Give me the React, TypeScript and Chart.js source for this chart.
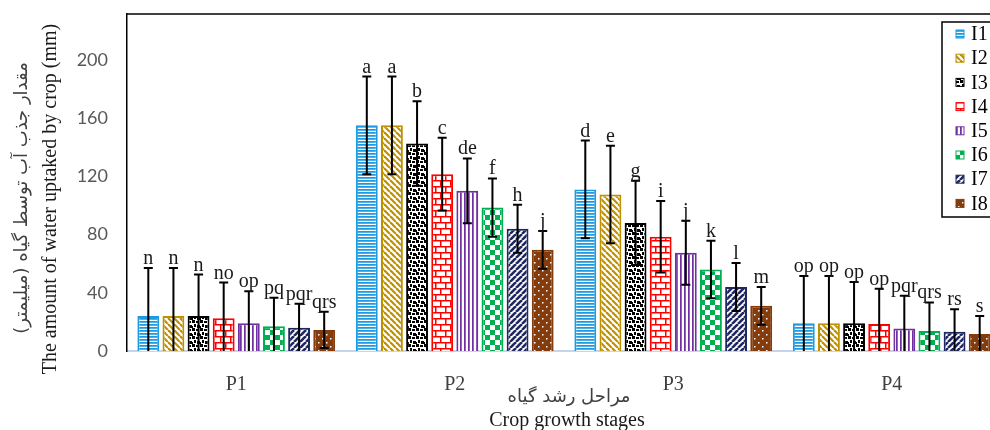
import React, { useEffect, useRef } from "react";
import { Chart, registerables } from "chart.js";

Chart.register(...registerables);

const categories = ["P1", "P2", "P3", "P4"];
const seriesNames = ["I1", "I2", "I3", "I4", "I5", "I6", "I7", "I8"];

const I1 = [24, 155, 111, 19];
const I2 = [24, 155, 107.5, 19];
const I3 = [24, 142.5, 88, 19];
const I4 = [22.5, 121.5, 78.5, 18.5];
const I5 = [19, 110, 67.5, 15.5];
const I6 = [17, 98.5, 56, 13.7];
const I7 = [16, 84, 44, 13.3];
const I8 = [14.5, 69.5, 31, 11.7];

const E1 = [33, 33.5, 33.6, 32.5];
const E2 = [33, 33.5, 33.5, 32.5];
const E3 = [28.5, 29, 29, 28.4];
const E4 = [24.5, 25, 24.5, 24.3];
const E5 = [22, 22.3, 22, 22.5];
const E6 = [19.5, 20, 19.7, 19.7];
const E7 = [16.5, 16.5, 16.5, 15.3];
const E8 = [12.5, 13, 13, 12.3];

const L1 = ["n", "a", "d", "op"];
const L2 = ["n", "a", "e", "op"];
const L3 = ["n", "b", "g", "op"];
const L4 = ["no", "c", "i", "op"];
const L5 = ["op", "de", "j", "pqr"];
const L6 = ["pq", "f", "k", "qrs"];
const L7 = ["pqr", "h", "l", "rs"];
const L8 = ["qrs", "j", "m", "s"];

const yTicks = [0, 40, 80, 120, 160, 200];

const yTitleEn = "The amount of water uptaked by crop (mm)";
const yTitleFa = "مقدار جذب آب توسط گیاه (میلیمتر)";
const xTitleEn = "Crop growth stages";
const xTitleFa = "مراحل رشد گیاه";

const values = [I1, I2, I3, I4, I5, I6, I7, I8];
const errors = [E1, E2, E3, E4, E5, E6, E7, E8];
const letters = [L1, L2, L3, L4, L5, L6, L7, L8];
const colors = ["#1E9BE0", "#BF9000", "#000000", "#FF0000", "#7030A0", "#00B050", "#1F2860", "#843C0C"];

const SERIF = "'Liberation Serif', 'Times New Roman', serif";

function tile(w: number, h: number, draw: (c: CanvasRenderingContext2D) => void) {
  const cv = document.createElement("canvas");
  cv.width = w;
  cv.height = h;
  const c = cv.getContext("2d")!;
  c.fillStyle = "#ffffff";
  c.fillRect(0, 0, w, h);
  draw(c);
  return c.createPattern(cv, "repeat")!;
}

function makePatterns(): CanvasPattern[] {
  const p1 = tile(4, 3, (c) => {
    c.fillStyle = "#1E9BE0";
    c.fillRect(0, 0, 4, 1);
    c.fillStyle = "#4DB0E8";
    c.fillRect(0, 1, 4, 1);
  });
  const p2 = tile(6, 6, (c) => {
    c.strokeStyle = "#BF9000";
    c.lineWidth = 2.2;
    for (let k = -1; k <= 1; k++) {
      c.beginPath();
      c.moveTo(k * 6, 0);
      c.lineTo(k * 6 + 6, 6);
      c.stroke();
    }
  });
  const p3 = tile(8, 8, (c) => {
    c.fillStyle = "#000000";
    c.fillRect(0, 0, 3, 3);
    c.fillRect(4, 1, 3, 2);
    c.fillRect(2, 4, 2, 3);
    c.fillRect(5, 5, 3, 3);
    c.fillRect(0, 6, 1, 2);
  });
  const p4 = tile(10, 12, (c) => {
    c.strokeStyle = "#FF0000";
    c.lineWidth = 1.5;
    c.beginPath();
    c.moveTo(0, 0.75);
    c.lineTo(10, 0.75);
    c.moveTo(0, 6.75);
    c.lineTo(10, 6.75);
    c.moveTo(0.75, 0);
    c.lineTo(0.75, 6);
    c.moveTo(5.75, 6);
    c.lineTo(5.75, 12);
    c.stroke();
  });
  const p5 = tile(4, 1, (c) => {
    c.fillStyle = "#7030A0";
    c.fillRect(0, 0, 1, 1);
    c.fillStyle = "#9566C0";
    c.fillRect(1, 0, 1, 1);
  });
  const p6 = tile(10, 10, (c) => {
    c.fillStyle = "#00B050";
    c.fillRect(0, 0, 5, 5);
    c.fillRect(5, 5, 5, 5);
  });
  const p7 = tile(6, 6, (c) => {
    c.strokeStyle = "#1F2860";
    c.lineWidth = 2.6;
    for (let k = -1; k <= 1; k++) {
      c.beginPath();
      c.moveTo(k * 6, 6);
      c.lineTo(k * 6 + 6, 0);
      c.stroke();
    }
  });
  const p8 = tile(8, 8, (c) => {
    c.fillStyle = "#843C0C";
    c.fillRect(0, 0, 8, 8);
    c.fillStyle = "#ffffff";
    c.fillRect(2, 2, 1.5, 1.5);
    c.fillRect(6, 6, 1.5, 1.5);
  });
  return [p1, p2, p3, p4, p5, p6, p7, p8];
}

export default function App() {
  const ref = useRef<HTMLCanvasElement | null>(null);

  useEffect(() => {
    if (!ref.current) return;
    const patterns = makePatterns();

    const errorPlugin = {
      id: "errorBars",
      afterDatasetsDraw(chart: any) {
        const ctx = chart.ctx;
        const y = chart.scales.y;
        ctx.save();
        ctx.strokeStyle = "#000000";
        ctx.lineWidth = 2;
        chart.data.datasets.forEach((ds: any, i: number) => {
          const meta = chart.getDatasetMeta(i);
          meta.data.forEach((bar: any, j: number) => {
            const v = values[i][j];
            const e = errors[i][j];
            const x = bar.x;
            const yt = y.getPixelForValue(v + e);
            const low = v - e;
            const yb = y.getPixelForValue(Math.max(low, 0));
            ctx.beginPath();
            ctx.moveTo(x, yt);
            ctx.lineTo(x, yb);
            ctx.moveTo(x - 4.5, yt);
            ctx.lineTo(x + 4.5, yt);
            if (low > 0) {
              ctx.moveTo(x - 4.5, yb);
              ctx.lineTo(x + 4.5, yb);
            }
            ctx.stroke();
            ctx.fillStyle = "#1a1a1a";
            ctx.font = `20px ${SERIF}`;
            ctx.textAlign = "center";
            ctx.textBaseline = "alphabetic";
            ctx.fillText(letters[i][j], x, yt - 4);
          });
        });
        ctx.restore();
      },
      afterDraw(chart: any) {
        const ctx = chart.ctx;
        const a = chart.chartArea;
        ctx.save();
        ctx.strokeStyle = "#000000";
        ctx.lineWidth = 1.5;
        ctx.beginPath();
        ctx.moveTo(a.left, a.top);
        ctx.lineTo(a.right, a.top);
        ctx.stroke();

        const lx = 942, ly = 22, lh = 195;
        ctx.fillStyle = "#ffffff";
        ctx.fillRect(lx, ly, 80, lh);
        ctx.lineWidth = 1.5;
        ctx.strokeStyle = "#000000";
        ctx.strokeRect(lx, ly, 80, lh);
        seriesNames.forEach((name, i) => {
          const cy = 34 + i * 24.2;
          ctx.fillStyle = patterns[i];
          ctx.fillRect(956, cy - 4, 8, 8);
          ctx.strokeStyle = colors[i];
          ctx.lineWidth = 1;
          ctx.strokeRect(956, cy - 4, 8, 8);
          ctx.fillStyle = "#000000";
          ctx.font = `20px ${SERIF}`;
          ctx.textAlign = "left";
          ctx.textBaseline = "middle";
          ctx.fillText(name, 971, cy + 1);
        });

        ctx.fillStyle = "#404040";
        ctx.textAlign = "center";
        ctx.textBaseline = "middle";
        ctx.save();
        ctx.translate(22, 198);
        ctx.rotate(-Math.PI / 2);
        ctx.direction = "rtl";
        ctx.font = "18px 'DejaVu Sans', sans-serif";
        ctx.fillText(yTitleFa, 0, 0);
        ctx.restore();

        ctx.save();
        ctx.translate(51, 199);
        ctx.rotate(-Math.PI / 2);
        ctx.fillStyle = "#1a1a1a";
        ctx.font = `20px ${SERIF}`;
        ctx.fillText(yTitleEn, 0, 0);
        ctx.restore();

        ctx.save();
        ctx.direction = "rtl";
        ctx.font = "18px 'DejaVu Sans', sans-serif";
        ctx.fillStyle = "#404040";
        ctx.fillText(xTitleFa, 569, 397);
        ctx.restore();

        ctx.fillStyle = "#1a1a1a";
        ctx.font = `20px ${SERIF}`;
        ctx.fillText(xTitleEn, 567, 421);
        ctx.restore();
      },
    };

    const chart = new Chart(ref.current, {
      type: "bar",
      data: {
        labels: categories,
        datasets: seriesNames.map((name, i) => ({
          label: name,
          data: values[i],
          backgroundColor: patterns[i] as any,
          borderColor: colors[i],
          borderWidth: 2,
          categoryPercentage: 0.92,
          barPercentage: 0.87,
        })),
      },
      options: {
        responsive: false,
        maintainAspectRatio: false,
        animation: false,
        layout: { padding: { top: 14, right: 9, left: 0, bottom: 0 } },
        plugins: { legend: { display: false }, tooltip: { enabled: false }, title: { display: false } },
        scales: {
          x: {
            grid: { display: false, drawTicks: false },
            border: { color: "#C5D5EA", width: 2 },
            ticks: { font: { family: SERIF, size: 20 }, color: "#404040", padding: 22 },
            afterFit: (s: any) => {
              s.height = 79;
              s.paddingTop = 0;
              s.paddingBottom = 0;
            },
          },
          y: {
            min: 0,
            max: 231.5,
            grid: { display: false, drawTicks: false },
            border: { color: "#000000", width: 1.5 },
            ticks: { font: { family: "Lato, sans-serif", size: 18 }, color: "#595959", padding: 19 },
            afterBuildTicks: (s: any) => {
              s.ticks = yTicks.map((v) => ({ value: v }));
            },
            afterFit: (s: any) => {
              s.width = 127;
              s.paddingTop = 0;
              s.paddingBottom = 0;
            },
          },
        },
      },
      plugins: [errorPlugin],
    });
    return () => chart.destroy();
  }, []);

  return (
    <div style={{ position: "fixed", left: 0, top: 0, width: 990, height: 430, overflow: "hidden", background: "#fff" }}>
      <canvas ref={ref} width={1010} height={430} style={{ display: "block", width: 1010, height: 430 }} />
    </div>
  );
}
